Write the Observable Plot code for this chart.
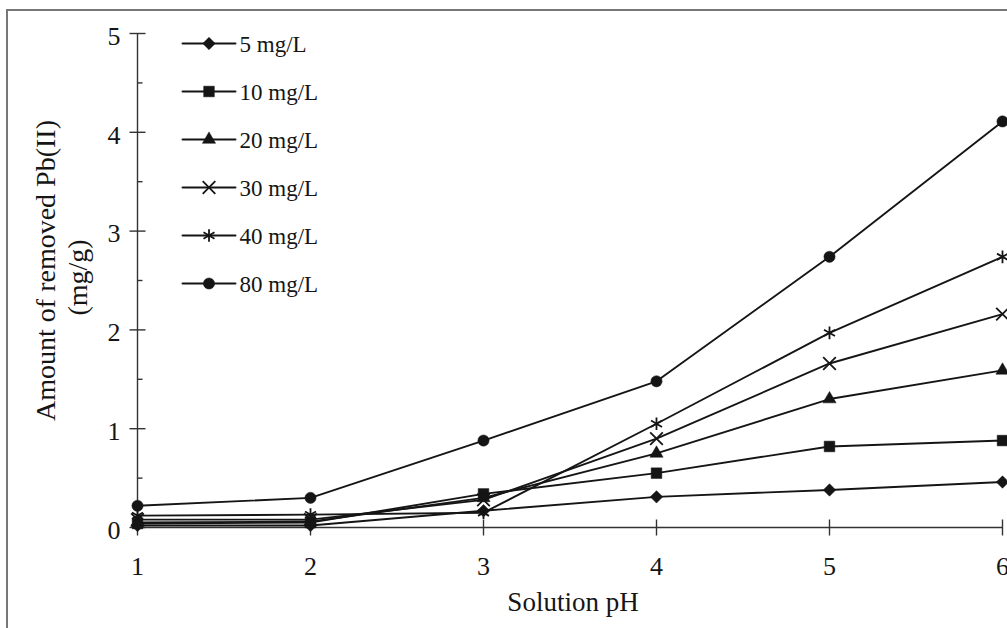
<!DOCTYPE html>
<html>
<head>
<meta charset="utf-8">
<script src="https://cdn.jsdelivr.net/npm/d3@7"></script>
<script src="https://cdn.jsdelivr.net/npm/@observablehq/plot@0.6"></script>
<style>
  html, body { margin: 0; padding: 0; background: #fff; }
  #wrap { position: relative; width: 1007px; height: 628px; overflow: hidden; background: #fff; }
  #wrap svg { position: absolute; }
  #border { position: absolute; left: 6px; top: 9px; width: 1010px; height: 640px;
            border-left: 2px solid #777; border-top: 2px solid #777; pointer-events: none; }
</style>
</head>
<body>
<div id="wrap"><div id="border"></div></div>
<script>
// ---- data ----
const pH = [1, 2, 3, 4, 5, 6];
const seriesNames = ["5 mg/L", "10 mg/L", "20 mg/L", "30 mg/L", "40 mg/L", "80 mg/L"];
const removed5  = [0.02, 0.02, 0.17, 0.31, 0.38, 0.46];
const removed10 = [0.04, 0.05, 0.34, 0.55, 0.82, 0.88];
const removed20 = [0.05, 0.06, 0.30, 0.75, 1.30, 1.59];
const removed30 = [0.08, 0.08, 0.28, 0.90, 1.66, 2.16];
const removed40 = [0.12, 0.13, 0.15, 1.05, 1.97, 2.74];
const removed80 = [0.22, 0.30, 0.88, 1.48, 2.74, 4.11];
const yTicks = [0, 1, 2, 3, 4, 5];
const yMinorTicks = [0.5, 1.5, 2.5, 3.5, 4.5];
const xTicks = [1, 2, 3, 4, 5, 6];
const xLabel = "Solution pH";
const yLabel1 = "Amount of removed Pb(II)";
const yLabel2 = "(mg/g)";

// ---- styling ----
const seriesValues = [removed5, removed10, removed20, removed30, removed40, removed80];
const symbols = ["diamond2", "square", "triangle", "times", "asterisk", "circle"];
const filled  = [true, true, true, false, false, true];
const radii   = [5.6, 6.0, 4.9, 5.8, 6.0, 5.6];
const font = "Liberation Serif, Times New Roman, serif";
const ink = "#151515";

const rows = [];
seriesNames.forEach((s, i) => pH.forEach((x, j) => rows.push({series: s, pH: x, value: seriesValues[i][j]})));

// custom tick symbols
const hTick = (a, b) => ({draw(ctx) { ctx.moveTo(a, 0); ctx.lineTo(b, 0); }});
const vTick = (a, b) => ({draw(ctx) { ctx.moveTo(0, a); ctx.lineTo(0, b); }});

function seriesDots(data, xAcc, yAcc) {
  return seriesNames.map((s, i) => Plot.dot(data.filter(d => d.series === s), {
    x: xAcc, y: yAcc, symbol: symbols[i], r: radii[i],
    fill: filled[i] ? ink : "none",
    stroke: ink, strokeWidth: filled[i] ? 0.5 : 1.8
  }));
}

const chart = Plot.plot({
  width: 1007, height: 628,
  marginLeft: 137, marginRight: 5, marginTop: 33, marginBottom: 101,
  x: {domain: [1, 6], axis: null},
  y: {domain: [0, 5], axis: null},
  style: {fontFamily: font, background: "transparent", color: ink},
  marks: [
    // axis lines
    Plot.ruleX([1], {y1: 0, y2: 5, stroke: "#333", strokeWidth: 1.4}),
    Plot.ruleY([0], {x1: 1, x2: 6, stroke: "#333", strokeWidth: 1.4}),
    // ticks
    Plot.dot(yTicks, {x: 1, y: d => d, symbol: hTick(-8, 8), stroke: "#333", strokeWidth: 1.4}),
    Plot.dot(yMinorTicks, {x: 1, y: d => d, symbol: hTick(0, 5), stroke: "#333", strokeWidth: 1.4}),
    Plot.dot(xTicks, {x: d => d, y: 0, symbol: vTick(-8, 8), stroke: "#333", strokeWidth: 1.4}),
    // tick labels
    Plot.text(yTicks, {x: 1, y: d => d, text: d => String(d), dx: -17, dy: 3, textAnchor: "end", fontSize: 26, fill: ink}),
    Plot.text(xTicks, {x: d => d, y: 0, text: d => String(d), dy: 39, fontSize: 26, fill: ink}),
    // axis titles
    Plot.text([xLabel], {frameAnchor: "bottom", text: d => d, dy: 83, dx: 3, fontSize: 27, fill: ink}),
    Plot.text([yLabel1], {frameAnchor: "left", text: d => d, rotate: -90, textAnchor: "middle", dx: -91, dy: -10, fontSize: 28, fill: ink}),
    Plot.text([yLabel2], {frameAnchor: "left", text: d => d, rotate: -90, textAnchor: "middle", dx: -59, dy: -3, fontSize: 28, fill: ink}),
    // data
    Plot.line(rows, {x: "pH", y: "value", z: "series", stroke: ink, strokeWidth: 1.9}),
    ...seriesDots(rows, "pH", "value")
  ]
});
chart.style.left = "0px";
chart.style.top = "0px";
document.getElementById("wrap").appendChild(chart);

// ---- legend (overlay plot) ----
const legendRows = [];
seriesNames.forEach(s => [0, 1].forEach(x => legendRows.push({series: s, x})));
const legendMid = seriesNames.map(s => ({series: s, x: 0.5}));
const legend = Plot.plot({
  width: 220, height: 290,
  marginLeft: 12, marginRight: 155, marginTop: 24, marginBottom: 26,
  x: {domain: [0, 1], axis: null},
  y: {type: "point", domain: seriesNames, axis: null, padding: 0},
  style: {fontFamily: font, background: "transparent", color: ink},
  marks: [
    Plot.line(legendRows, {x: "x", y: "series", z: "series", stroke: ink, strokeWidth: 1.9}),
    ...seriesDots(legendMid, "x", "series"),
    Plot.text(seriesNames, {x: 1, y: d => d, text: d => d, dx: 4, dy: 1, textAnchor: "start", fontSize: 23, fill: ink})
  ]
});
legend.style.left = "170px";
legend.style.top = "19px";
document.getElementById("wrap").appendChild(legend);
</script>
</body>
</html>
